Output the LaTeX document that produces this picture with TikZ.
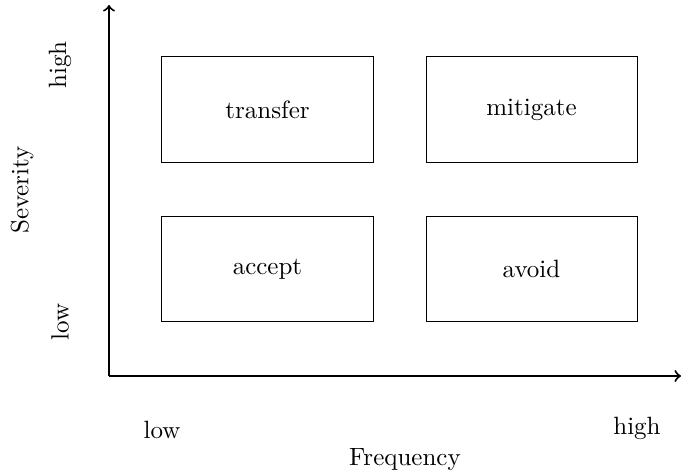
\documentclass[tikz,border=0pt]{standalone}
\begin{document}
\begin{tikzpicture}[x=0.4pt,y=-0.4pt,
  quad/.style={draw,line width=0.4pt,minimum width=84.4pt,minimum height=42.2pt,inner sep=0pt},
  axis/.style={line width=0.8pt,->},
  lbl/.style={inner sep=0pt}]
\useasboundingbox (0,0) rectangle (681,473);
% axes
\coordinate (O) at (109,376);
\coordinate (ytop) at (109,5);
\coordinate (xend) at (681,376);
\draw[axis] (O) -- (ytop);
\draw[axis] (O) -- (xend);
% quadrants
\node[quad] (transfer) at (267.5,109.5) {transfer};
\node[quad] (mitigate) at (531.5,109.5) {mitigate};
\node[quad] (accept) at (267.5,269) {accept};
\node[quad] (avoid) at (531.5,269) {avoid};
% axis labels
\node[lbl,rotate=90] (yhigh) at (60,65) {high};
\node[lbl,rotate=90] (ylow) at (60,322) {low};
\node[lbl,rotate=90] (ylab) at (22,190) {Severity};
\node[lbl] (xlow) at (162,430) {low};
\node[lbl] (xhigh) at (637,428) {high};
\node[lbl] (xlab) at (405,460) {Frequency};
\end{tikzpicture}
\end{document}
